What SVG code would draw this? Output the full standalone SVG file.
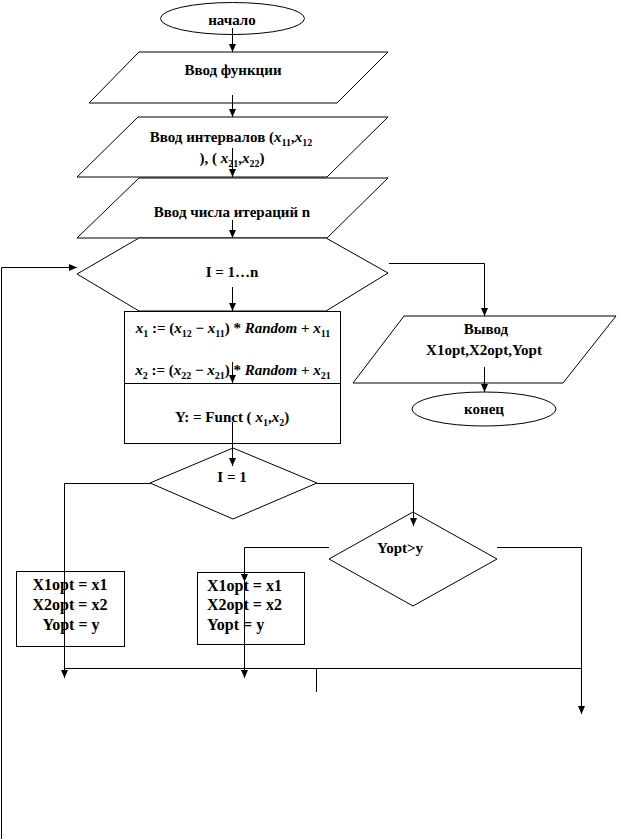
<svg xmlns="http://www.w3.org/2000/svg" width="621" height="839" viewBox="0 0 621 839">
<style>
.s{fill:#fff;stroke:#000;stroke-width:1}
.c{fill:none;stroke:#000;stroke-width:1}
.t{font-family:"Liberation Serif","Times New Roman",serif;font-weight:bold;font-size:15px;fill:#000;text-anchor:middle}
.l{text-anchor:start}
.m{font-size:16px}
.i{font-style:italic}
.b{font-size:10px}
</style>
<defs>
<marker id="a" markerUnits="userSpaceOnUse" markerWidth="9" markerHeight="8" refX="8" refY="3.5" orient="auto">
<path d="M0,0 L8,3.5 L0,7 z" fill="#000"/>
</marker>
</defs>
<rect width="621" height="839" fill="#fff"/>
<g id="start"><ellipse class="s" cx="232.5" cy="18.5" rx="72" ry="16"/><text class="t" x="232" y="25">начало</text></g>
<g id="input-func"><polygon class="s" points="139,52 388,52 337,103 89,103"/><text class="t" x="233" y="75">Ввод функции</text></g>
<g id="input-intervals"><polygon class="s" points="138,117 388,117 327,177 77,177"/>
<text class="t" x="231" y="142">Ввод интервалов (<tspan class="i">x</tspan><tspan class="b" dy="4">11</tspan><tspan dy="-4">,</tspan><tspan class="i">x</tspan><tspan class="b" dy="4">12</tspan></text>
<text class="t" x="232" y="163">), ( <tspan class="i">x</tspan><tspan class="b" dy="4">21</tspan><tspan dy="-4">,</tspan><tspan class="i">x</tspan><tspan class="b" dy="4">22</tspan><tspan dy="-4">)</tspan></text></g>
<g id="input-n"><polygon class="s" points="139,178 388,178 327,238 77,238"/><text class="t" x="232" y="217">Ввод числа итераций n</text></g>
<g id="loop"><polygon class="s" points="77,274 139,238 326,238 388,273 326,311 139,311"/><text class="t" x="232" y="277">I = 1…n</text></g>
<g id="calc"><rect class="s" x="124.5" y="311.5" width="216" height="132"/><line class="c" x1="124" y1="383.5" x2="340" y2="383.5"/>
<text class="t" x="233" y="333"><tspan class="i">x</tspan><tspan class="b" dy="4">1</tspan><tspan dy="-4"> := (</tspan><tspan class="i">x</tspan><tspan class="b" dy="4">12</tspan><tspan dy="-4"> − </tspan><tspan class="i">x</tspan><tspan class="b" dy="4">11</tspan><tspan dy="-4">) * </tspan><tspan class="i">Random</tspan> + <tspan class="i">x</tspan><tspan class="b" dy="4">11</tspan></text>
<text class="t" x="233" y="375"><tspan class="i">x</tspan><tspan class="b" dy="4">2</tspan><tspan dy="-4"> := (</tspan><tspan class="i">x</tspan><tspan class="b" dy="4">22</tspan><tspan dy="-4"> − </tspan><tspan class="i">x</tspan><tspan class="b" dy="4">21</tspan><tspan dy="-4">) * </tspan><tspan class="i">Random</tspan> + <tspan class="i">x</tspan><tspan class="b" dy="4">21</tspan></text>
<text class="t" x="232" y="422">Y: = Funct ( <tspan class="i">x</tspan><tspan class="b" dy="4">1</tspan><tspan dy="-4">,</tspan><tspan class="i">x</tspan><tspan class="b" dy="4">2</tspan><tspan dy="-4">)</tspan></text></g>
<g id="output"><polygon class="s" points="404,316 616,316 563,383 353,383"/><text class="t" x="486" y="334">Вывод</text><text class="t" x="484" y="355">X1opt,X2opt,Yopt</text></g>
<g id="end"><ellipse class="s" cx="484" cy="409" rx="72" ry="17"/><text class="t" x="484" y="414">конец</text></g>
<g id="cond1"><polygon class="s" points="233,448 317,483 233,519 150,483"/><text class="t" x="232" y="482">I = 1</text></g>
<g id="cond2"><polygon class="s" points="413,512 497,559 413,606 329,559"/><text class="t l" x="377" y="553">Yopt&gt;y</text></g>
<g id="assign1"><rect class="s" x="16.5" y="571.5" width="108" height="75"/><text class="t m" x="70" y="590">X1opt = x1</text><text class="t m" x="70" y="610">X2opt = x2</text><text class="t m" x="71" y="630">Yopt = y</text></g>
<g id="assign2"><rect class="s" x="197.5" y="572.5" width="107" height="72"/><text class="t l m" x="207" y="591">X1opt = x1</text><text class="t l m" x="207" y="610">X2opt = x2</text><text class="t l m" x="207" y="630">Yopt = y</text></g>
<g id="connectors">
<path class="c" d="M232.5,28 V52" marker-end="url(#a)"/>
<path class="c" d="M232.5,95 V117" marker-end="url(#a)"/>
<path class="c" d="M232.5,148 V177" marker-end="url(#a)"/>
<path class="c" d="M232.5,220 V238" marker-end="url(#a)"/>
<path class="c" d="M1.5,839 V267.5 H77" marker-end="url(#a)"/>
<path class="c" d="M232.5,287 V311" marker-end="url(#a)"/>
<path class="c" d="M232.5,362 V383" marker-end="url(#a)"/>
<path class="c" d="M232.5,422 V466" marker-end="url(#a)"/>
<path class="c" d="M389,263.5 H484.5 V316" marker-end="url(#a)"/>
<path class="c" d="M484.5,367 V392" marker-end="url(#a)"/>
<path class="c" d="M150,483.5 H64.5 V678" marker-end="url(#a)"/>
<path class="c" d="M317,483.5 H413.5 V526" marker-end="url(#a)"/>
<path class="c" d="M329,547.5 H244.5 V582" marker-end="url(#a)"/>
<path class="c" d="M244.5,582 V678" marker-end="url(#a)"/>
<path class="c" d="M497,547.5 H581.5 V714" marker-end="url(#a)"/>
<path class="c" d="M64.5,668.5 H581.5"/>
<path class="c" d="M316.5,668.5 V692"/>
</g>
</svg>
